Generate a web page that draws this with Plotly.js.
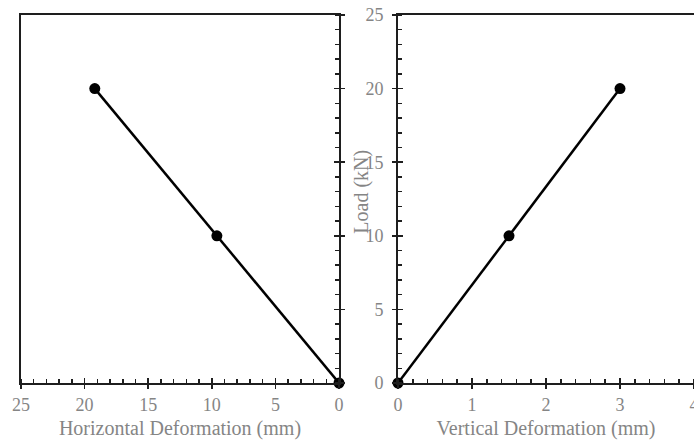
<!DOCTYPE html>
<html>
<head>
<meta charset="utf-8">
<script src="https://cdn.plot.ly/plotly-3.0.1.min.js"></script>
<style>html,body{margin:0;padding:0;background:#fff;}#chart{width:694px;height:447px;}</style>
</head>
<body>
<div id="chart"></div>
<script>
// Data
const loadKN = [0, 10, 20];
const horizontalDeformation = [0, 9.6, 19.2];
const verticalDeformation = [0, 1.5, 3.0];
const xTitleLeft = 'Horizontal Deformation (mm)';
const xTitleRight = 'Vertical Deformation (mm)';
const yTitle = 'Load (kN)';

const AX = '#1e1e1e';
const TXT = '#858585';
const FONT = 'Liberation Serif, Times New Roman, serif';

const lineStyle = {color: '#000', width: 2.5};
const markerStyle = {color: '#000', size: 11};

const traces = [
  {x: horizontalDeformation, y: loadKN, xaxis: 'x', yaxis: 'y', mode: 'lines+markers',
   line: lineStyle, marker: markerStyle, cliponaxis: false, hoverinfo: 'skip'},
  {x: verticalDeformation, y: loadKN, xaxis: 'x2', yaxis: 'y2', mode: 'lines+markers',
   line: lineStyle, marker: markerStyle, cliponaxis: false, hoverinfo: 'skip'},
  {x: [], y: [], xaxis: 'x3', yaxis: 'y', hoverinfo: 'skip'},
  {x: [], y: [], xaxis: 'x', yaxis: 'y3', hoverinfo: 'skip'},
  {x: [], y: [], xaxis: 'x4', yaxis: 'y2', hoverinfo: 'skip'},
  {x: [], y: [], xaxis: 'x2', yaxis: 'y4', hoverinfo: 'skip'}
];

const tickFont = {family: FONT, size: 18, color: TXT};
const titleFont = {family: FONT, size: 20, color: TXT};

function mainAxis(extra) {
  return Object.assign({
    showgrid: false, zeroline: false, showline: true, linecolor: AX, linewidth: 2,
    ticks: 'outside', ticklen: 4, tickwidth: 1.5, tickcolor: AX,
    tickfont: tickFont, fixedrange: true, ticklabeloverflow: 'allow'
  }, extra);
}
function overlayAxis(extra) {
  return Object.assign({
    showgrid: false, zeroline: false, showline: false, showticklabels: false,
    ticks: 'inside', ticklen: 5, tickwidth: 1.5, tickcolor: AX, fixedrange: true
  }, extra);
}
const minorStyle = (d) => ({dtick: d, ticks: 'inside', ticklen: 4, tickwidth: 1.5, tickcolor: AX, showgrid: false});

const layout = {
  width: 694, height: 447,
  margin: {l: 21, r: 0, t: 15, b: 64, pad: 0},
  paper_bgcolor: '#fff', plot_bgcolor: '#fff',
  showlegend: false,
  xaxis: mainAxis({domain: [0, 0.4725], range: [25, 0], anchor: 'y', tick0: 0, dtick: 5,
    minor: minorStyle(1), mirror: true,
    title: {text: xTitleLeft, font: titleFont, standoff: 7}}),
  yaxis: mainAxis({domain: [0, 1], range: [0, 25], anchor: 'x', side: 'right', tick0: 0, dtick: 5,
    showticklabels: false, minor: minorStyle(1), mirror: true}),
  xaxis2: mainAxis({domain: [0.5602, 1], range: [0, 4], anchor: 'y2', tick0: 0, dtick: 1,
    minor: minorStyle(0.2), mirror: true,
    title: {text: xTitleRight, font: titleFont, standoff: 7}}),
  yaxis2: mainAxis({domain: [0, 1], range: [0, 25], anchor: 'x2', side: 'left', tick0: 0, dtick: 5,
    minor: minorStyle(1), mirror: false, ticklabelstandoff: 5}),
  xaxis3: overlayAxis({overlaying: 'x', anchor: 'y', range: [25, 0], tick0: 0, dtick: 5, side: 'bottom'}),
  yaxis3: overlayAxis({overlaying: 'y', anchor: 'x', range: [0, 25], tick0: 0, dtick: 5, side: 'right'}),
  xaxis4: overlayAxis({overlaying: 'x2', anchor: 'y2', range: [0, 4], tick0: 0, dtick: 1, side: 'bottom'}),
  yaxis4: overlayAxis({overlaying: 'y2', anchor: 'x2', range: [0, 25], tick0: 0, dtick: 5, side: 'left'}),
  annotations: [{
    text: yTitle, xref: 'paper', yref: 'paper', x: 0.5067, y: 0.52,
    xanchor: 'center', yanchor: 'middle', textangle: -90, showarrow: false,
    font: titleFont
  }]
};

Plotly.newPlot('chart', traces, layout, {staticPlot: true, displayModeBar: false});
</script>
</body>
</html>
